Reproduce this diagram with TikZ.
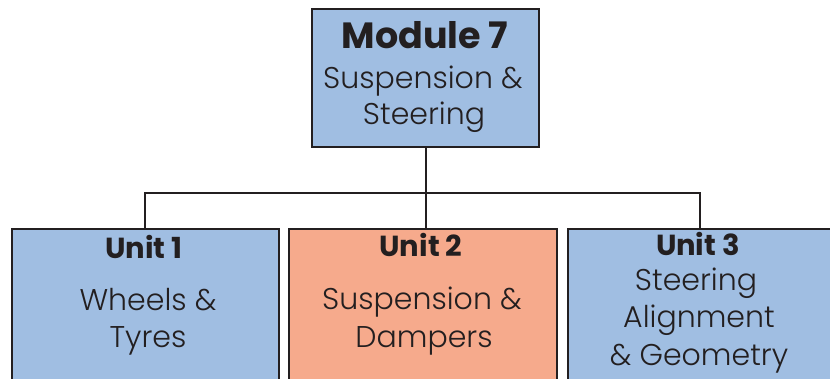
\documentclass[tikz,border=0pt]{standalone}
\usepackage{fontspec}
\setmainfont{Poppins}[UprightFont=* Light,BoldFont=* Bold]
\definecolor{boxblue}{RGB}{160,190,226}
\definecolor{boxsalmon}{RGB}{246,170,140}
\definecolor{ink}{RGB}{35,31,32}
\begin{document}
\begin{tikzpicture}[x=1pt,y=-1pt,
  box/.style={draw=ink,line width=2.4pt,minimum width=#1,inner sep=0pt,anchor=north west},
  wire/.style={draw=ink,line width=1.8pt},
  head/.style={font=\fontsize{36.5}{36.5}\selectfont\bfseries,text=ink,anchor=base,inner sep=0pt},
  unit/.style={font=\fontsize{29}{29}\selectfont\bfseries,text=ink,anchor=base,inner sep=0pt},
  body/.style={font=\fontsize{30}{30}\selectfont,text=ink,anchor=base,inner sep=0pt}]
\useasboundingbox (0,0) rectangle (830,378);
\clip (0,0) rectangle (830,378);
% boxes
\node[box=227pt,minimum height=138pt,fill=boxblue] (top) at (311,8) {};
\node[box=267pt,minimum height=180pt,fill=boxblue] (u1) at (11,228) {};
\node[box=268pt,minimum height=180pt,fill=boxsalmon] (u2) at (288,228) {};
\node[box=267pt,minimum height=180pt,fill=boxblue] (u3) at (567,228) {};
% connectors
\coordinate (bus) at (425,193);
\draw[wire] (top.south) -- (top.south |- bus);
\draw[wire,line join=miter] (u1.north -| 145,0) -- (145,193) -- (700,193) -- (u3.north -| 700,0);
\draw[wire] (top.south |- bus) -- (top.south |- u2.north);
% texts
\node[head] (t0) at (425,48) {Module 7};
\node[body] (t1) at (423,88) {Suspension \&};
\node[body] (t2) at (424,124) {Steering};
\node[unit] (a0) at (144,258) {Unit 1};
\node[body] (a1) at (148,310) {Wheels \&};
\node[body] (a2) at (148,347) {Tyres};
\node[unit] (b0) at (421,256) {Unit 2};
\node[body] (b1) at (422,309) {Suspension \&};
\node[body] (b2) at (424,347) {Dampers};
\node[unit] (c0) at (698,255) {Unit 3};
\node[body] (c1) at (696,290) {Steering};
\node[body] (c2) at (699,327) {Alignment};
\node[body] (c3) at (699,365) {\& Geometry};
\end{tikzpicture}
\end{document}
